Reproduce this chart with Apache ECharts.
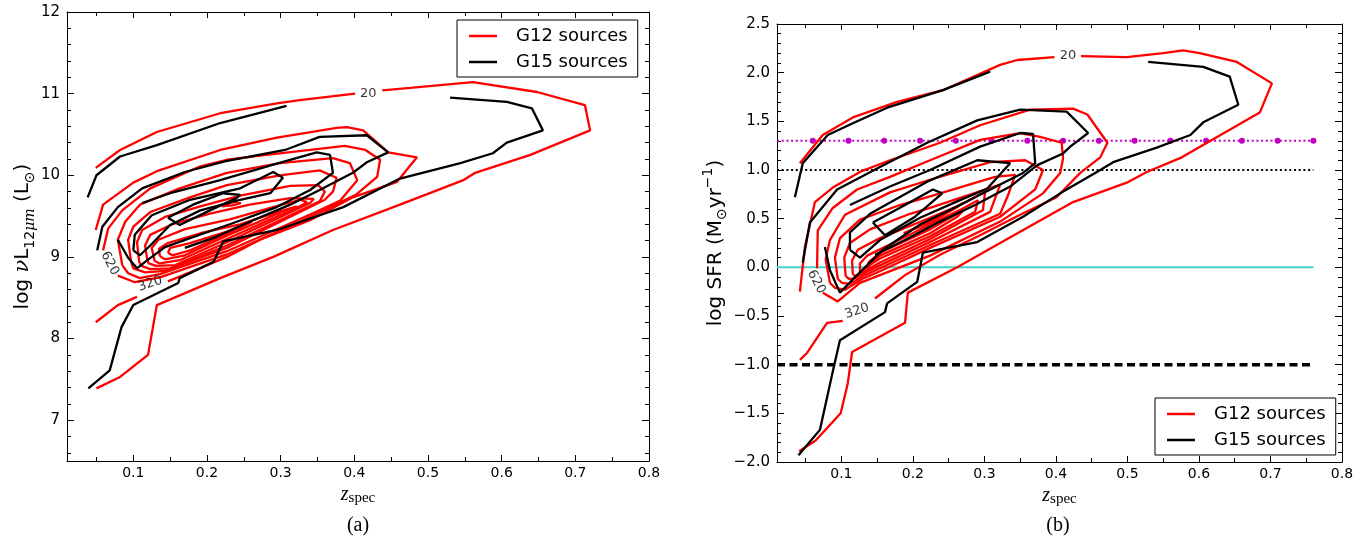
<!DOCTYPE html>
<html><head><meta charset="utf-8">
<script src="https://cdn.jsdelivr.net/npm/echarts@6/dist/echarts.min.js"></script>
<style>html,body{margin:0;padding:0;background:#fff}#c{width:1368px;height:541px}</style>
</head><body><div id="c"></div>
<script>
// ---------- axis ranges / ticks ----------
const X_MIN = 0.01, X_MAX = 0.8;
const L_YMIN = 6.5, L_YMAX = 12;
const R_YMIN = -2, R_YMAX = 2.5;
const xLabelVals = [0.1,0.2,0.3,0.4,0.5,0.6,0.7,0.8];
const xMinorTicks = [0.05,0.15,0.25,0.35,0.45,0.55,0.65,0.75];
const yLeftLabels = [7,8,9,10,11,12];
const yLeftMinor = [6.6,6.8,7.2,7.4,7.6,7.8,8.2,8.4,8.6,8.8,9.2,9.4,9.6,9.8,10.2,10.4,10.6,10.8,11.2,11.4,11.6,11.8];
const yRightLabels = [-2,-1.5,-1,-0.5,0,0.5,1,1.5,2,2.5];
const yRightMinor = [-1.9,-1.8,-1.7,-1.6,-1.4,-1.3,-1.2,-1.1,-0.9,-0.8,-0.7,-0.6,-0.4,-0.3,-0.2,-0.1,0.1,0.2,0.3,0.4,0.6,0.7,0.8,0.9,1.1,1.2,1.3,1.4,1.6,1.7,1.8,1.9,2.1,2.2,2.3,2.4];

// ---------- panel (a): G12 contours (red) ----------
const a_g12_20a = [[0.050,7.39],[0.082,7.53],[0.120,7.80],[0.132,8.41],[0.218,8.74],[0.290,9.00],[0.371,9.33],[0.462,9.64],[0.548,9.94],[0.564,10.03],[0.639,10.25],[0.720,10.55],[0.713,10.86],[0.648,11.02],[0.561,11.14],[0.476,11.07],[0.438,11.04]];
const a_g12_20b = [[0.401,11.00],[0.326,10.92],[0.295,10.88],[0.218,10.76],[0.132,10.53],[0.082,10.31],[0.049,10.09]];
const a_g12_320a = [[0.049,9.33],[0.059,9.64],[0.100,9.91],[0.132,10.05],[0.218,10.31],[0.295,10.46],[0.376,10.58],[0.390,10.59],[0.412,10.55],[0.446,10.28],[0.485,10.22],[0.458,9.92],[0.398,9.73],[0.340,9.45],[0.272,9.21],[0.227,9.00],[0.177,8.81],[0.147,8.70]];
const a_g12_320b = [[0.105,8.51],[0.079,8.41],[0.049,8.20]];
const a_g12_620 = [[0.079,8.77],[0.102,8.69],[0.136,8.75],[0.227,9.03],[0.340,9.49],[0.402,9.76],[0.431,9.98],[0.435,10.19],[0.415,10.31],[0.387,10.36],[0.340,10.31],[0.272,10.24],[0.227,10.19],[0.191,10.11],[0.123,9.84],[0.085,9.57],[0.066,9.35],[0.059,9.08]];
const a_g12_920 = [[0.085,8.90],[0.079,9.21],[0.089,9.43],[0.109,9.64],[0.163,9.84],[0.227,10.03],[0.299,10.15],[0.371,10.21],[0.394,10.15],[0.404,9.94],[0.381,9.69],[0.340,9.52],[0.227,9.07],[0.136,8.79],[0.109,8.74],[0.093,8.80],[0.085,8.90]];
const a_g12_1220 = [[0.097,8.94],[0.093,9.21],[0.100,9.37],[0.123,9.55],[0.177,9.73],[0.227,9.88],[0.299,10.00],[0.353,10.06],[0.376,9.97],[0.371,9.80],[0.360,9.70],[0.227,9.11],[0.143,8.83],[0.116,8.81],[0.100,8.86],[0.097,8.94]];
const a_g12_1520 = [[0.108,8.94],[0.105,9.18],[0.112,9.33],[0.143,9.49],[0.191,9.62],[0.245,9.75],[0.313,9.87],[0.351,9.88],[0.360,9.80],[0.353,9.68],[0.227,9.14],[0.150,8.86],[0.123,8.85],[0.111,8.89],[0.108,8.94]];
const a_g12_1820 = [[0.119,8.96],[0.116,9.14],[0.123,9.27],[0.153,9.40],[0.204,9.53],[0.258,9.64],[0.313,9.72],[0.345,9.71],[0.340,9.66],[0.227,9.18],[0.157,8.90],[0.131,8.89],[0.121,8.92],[0.119,8.96]];
const a_g12_2120 = [[0.128,8.99],[0.125,9.11],[0.134,9.21],[0.170,9.34],[0.231,9.46],[0.286,9.60],[0.326,9.70],[0.336,9.67],[0.326,9.62],[0.227,9.22],[0.163,8.96],[0.136,8.92],[0.129,8.95],[0.128,8.99]];
const a_g12_2420 = [[0.136,9.01],[0.135,9.10],[0.147,9.17],[0.191,9.29],[0.245,9.40],[0.292,9.54],[0.322,9.62],[0.306,9.57],[0.227,9.26],[0.170,9.02],[0.143,8.97],[0.136,9.01]];
const a_g12_2720 = [[0.147,9.05],[0.150,9.11],[0.177,9.17],[0.224,9.30],[0.261,9.43],[0.245,9.35],[0.224,9.27],[0.177,9.08],[0.153,9.02],[0.147,9.05]];
const a_g12_3020 = [[0.220,9.62],[0.234,9.67],[0.246,9.66],[0.234,9.63],[0.220,9.62]];

// ---------- panel (a): G15 contours (black) ----------
const a_g15_1a = [[0.039,7.39],[0.068,7.61],[0.084,8.14],[0.100,8.41],[0.161,8.68],[0.163,8.74],[0.209,8.94],[0.222,9.19],[0.295,9.33],[0.385,9.61],[0.462,9.96],[0.544,10.15],[0.588,10.27],[0.607,10.40],[0.656,10.55],[0.641,10.82],[0.607,10.90],[0.530,10.95]];
const a_g15_1b = [[0.038,9.73],[0.050,10.00],[0.082,10.23],[0.132,10.37],[0.218,10.64],[0.308,10.85]];
const a_g15_2 = [[0.051,9.08],[0.058,9.37],[0.079,9.61],[0.112,9.84],[0.170,10.04],[0.224,10.17],[0.306,10.31],[0.353,10.47],[0.417,10.49],[0.446,10.28],[0.417,10.16],[0.398,10.03],[0.353,9.82],[0.313,9.64],[0.258,9.43],[0.211,9.24],[0.170,9.11]];
const a_g15_3 = [[0.112,9.66],[0.150,9.78],[0.218,9.94],[0.290,10.13],[0.349,10.28],[0.367,10.25],[0.371,10.03],[0.340,9.82],[0.292,9.60],[0.231,9.40],[0.177,9.23],[0.143,9.12],[0.116,8.94],[0.105,8.86],[0.093,8.99],[0.079,9.21]];
const a_g15_4 = [[0.100,9.08],[0.102,9.27],[0.125,9.51],[0.177,9.70],[0.245,9.84],[0.290,10.04],[0.303,9.97],[0.286,9.78],[0.245,9.70],[0.191,9.57],[0.150,9.39],[0.123,9.14],[0.109,9.02],[0.100,9.08]];
const a_g15_5 = [[0.147,9.48],[0.181,9.64],[0.222,9.78],[0.245,9.76],[0.240,9.72],[0.204,9.57],[0.163,9.39],[0.147,9.48]];

// ---------- panel (b): G12 contours (red) ----------
const b_g12_20a = [[0.041,-1.89],[0.064,-1.78],[0.099,-1.50],[0.109,-1.19],[0.115,-0.87],[0.189,-0.57],[0.193,-0.26],[0.262,0.00],[0.322,0.25],[0.424,0.67],[0.499,0.87],[0.527,0.98],[0.576,1.13],[0.685,1.59],[0.702,1.89],[0.653,2.11],[0.601,2.20],[0.578,2.23],[0.550,2.20],[0.499,2.16],[0.435,2.17]];
const b_g12_20b = [[0.398,2.16],[0.346,2.13],[0.322,2.08],[0.242,1.82],[0.178,1.70],[0.116,1.54],[0.074,1.36],[0.042,1.07]];
const b_g12_320a = [[0.042,-0.25],[0.049,0.21],[0.063,0.67],[0.088,0.82],[0.126,0.98],[0.168,1.10],[0.238,1.28],[0.294,1.46],[0.364,1.62],[0.424,1.63],[0.444,1.57],[0.472,1.28],[0.462,1.13],[0.434,0.97],[0.401,0.72],[0.350,0.54],[0.294,0.33],[0.238,0.13],[0.189,-0.08],[0.147,-0.32]];
const b_g12_320b = [[0.102,-0.55],[0.080,-0.57],[0.052,-0.88],[0.042,-0.95]];
const b_g12_620 = [[0.074,-0.26],[0.095,-0.35],[0.126,-0.16],[0.224,0.12],[0.322,0.47],[0.382,0.76],[0.406,0.97],[0.410,1.12],[0.408,1.28],[0.378,1.34],[0.350,1.38],[0.294,1.31],[0.224,1.10],[0.168,0.93],[0.122,0.80],[0.088,0.61],[0.067,0.38],[0.066,-0.01]];
const b_g12_920 = [[0.084,-0.16],[0.078,0.08],[0.084,0.28],[0.105,0.54],[0.168,0.77],[0.224,0.90],[0.308,1.08],[0.357,1.10],[0.382,1.00],[0.371,0.80],[0.322,0.52],[0.224,0.20],[0.154,-0.04],[0.129,-0.12],[0.105,-0.23],[0.091,-0.21],[0.084,-0.16]];
const b_g12_1220 = [[0.095,-0.12],[0.091,0.10],[0.098,0.30],[0.126,0.49],[0.182,0.64],[0.224,0.73],[0.315,0.93],[0.343,0.95],[0.333,0.74],[0.322,0.55],[0.224,0.23],[0.154,-0.01],[0.133,-0.08],[0.112,-0.17],[0.101,-0.16],[0.095,-0.12]];
const b_g12_1520 = [[0.106,-0.09],[0.104,0.10],[0.112,0.25],[0.140,0.39],[0.196,0.55],[0.224,0.61],[0.322,0.85],[0.308,0.57],[0.224,0.26],[0.154,0.02],[0.137,-0.04],[0.120,-0.11],[0.111,-0.12],[0.106,-0.09]];
const b_g12_1820 = [[0.116,-0.07],[0.115,0.07],[0.123,0.18],[0.154,0.30],[0.224,0.51],[0.266,0.64],[0.301,0.78],[0.298,0.59],[0.224,0.29],[0.154,0.05],[0.140,-0.01],[0.126,-0.07],[0.119,-0.09],[0.116,-0.07]];
const b_g12_2120 = [[0.126,-0.05],[0.126,0.04],[0.136,0.12],[0.175,0.26],[0.224,0.44],[0.266,0.59],[0.291,0.69],[0.287,0.57],[0.224,0.32],[0.154,0.09],[0.137,0.01],[0.129,-0.04],[0.126,-0.05]];
const b_g12_2420 = [[0.136,-0.01],[0.138,0.05],[0.154,0.15],[0.224,0.39],[0.262,0.55],[0.270,0.58],[0.262,0.52],[0.224,0.35],[0.154,0.12],[0.140,0.03],[0.136,-0.01]];
const b_g12_2720 = [[0.187,0.35],[0.228,0.49],[0.270,0.66],[0.262,0.62],[0.228,0.47],[0.187,0.35]];

// ---------- panel (b): G15 contours (black) ----------
const b_g15_1a = [[0.040,-1.93],[0.070,-1.67],[0.088,-1.07],[0.098,-0.75],[0.161,-0.46],[0.164,-0.37],[0.206,-0.15],[0.214,0.15],[0.290,0.26],[0.354,0.52],[0.406,0.76],[0.462,1.00],[0.480,1.08],[0.541,1.23],[0.588,1.36],[0.606,1.49],[0.655,1.67],[0.643,1.96],[0.606,2.06],[0.529,2.11]];
const b_g15_1b = [[0.035,0.72],[0.046,1.07],[0.081,1.36],[0.116,1.48],[0.164,1.64],[0.242,1.82],[0.308,2.01]];
const b_g15_2 = [[0.046,0.05],[0.056,0.46],[0.094,0.80],[0.154,1.03],[0.220,1.28],[0.290,1.51],[0.350,1.62],[0.415,1.60],[0.445,1.38],[0.420,1.24],[0.410,1.17],[0.374,1.05],[0.336,0.83],[0.287,0.64],[0.238,0.47],[0.189,0.28],[0.147,0.13]];
const b_g15_3 = [[0.112,0.64],[0.168,0.83],[0.224,1.00],[0.294,1.24],[0.350,1.38],[0.368,1.37],[0.371,1.07],[0.354,0.97],[0.322,0.85],[0.266,0.64],[0.210,0.44],[0.158,0.18],[0.126,-0.05],[0.098,-0.26],[0.084,-0.03],[0.077,0.21]];
const b_g15_4 = [[0.112,0.18],[0.112,0.36],[0.140,0.55],[0.220,0.88],[0.290,1.10],[0.336,1.07],[0.304,0.81],[0.266,0.69],[0.210,0.51],[0.154,0.28],[0.126,0.10],[0.112,0.18]];
const b_g15_5 = [[0.144,0.46],[0.161,0.33],[0.203,0.52],[0.241,0.76],[0.228,0.80],[0.189,0.64],[0.144,0.46]];

// ---------- contour level labels ----------
const a_levelLabels = [[0.419,11.00,'20'],[0.068,8.92,'620'],[0.123,8.67,'320']];
const b_levelLabels = [[0.417,2.18,'20'],[0.065,-0.15,'620'],[0.122,-0.45,'320']];

// ---------- reference lines in panel (b) ----------
const refLineX = [0.01,0.76];
const magentaY = 1.3;
const magentaDotsX = [0.01,0.06,0.11,0.16,0.21,0.26,0.31,0.36,0.41,0.46,0.51,0.56,0.61,0.66,0.71,0.76];
const dottedY = 1.0;
const cyanY = 0.0;
const dashedY = -1.0;

const seriesNames = ['G12 sources','G15 sources'];
const panelTags = ['(a)','(b)'];

// ================= build chart =================
const RED = '#ff0000', BLK = '#000000';
const FONT = 'DejaVu Sans', SERIF = 'Liberation Serif';
const LW = 2.3;

function xAxesFor(g) {
  const line = {show:true,onZero:false,lineStyle:{color:BLK,width:1}};
  const noLine = {show:false,onZero:false};
  const base = {gridIndex:g, type:'value', min:X_MIN, max:X_MAX, splitLine:{show:false}};
  const tickStyle = {color:BLK,width:1};
  return [
    Object.assign({}, base, {position:'bottom', axisLine:line,
      axisTick:{show:true,inside:true,length:6,customValues:xLabelVals,lineStyle:tickStyle},
      axisLabel:{show:true,customValues:xLabelVals,formatter:v=>Number(v).toFixed(1),margin:5,color:BLK,fontSize:14,fontFamily:FONT},
      name:'{z|z}{s|spec}', nameLocation:'middle', nameGap:12,
      nameTextStyle:{rich:{
        z:{fontSize:20,fontStyle:'italic',fontFamily:SERIF,color:BLK,lineHeight:22,verticalAlign:'middle'},
        s:{fontSize:15,fontFamily:SERIF,color:BLK,lineHeight:15,verticalAlign:'bottom'}}}}),
    Object.assign({}, base, {position:'bottom', axisLine:noLine,
      axisTick:{show:true,inside:true,length:4,customValues:xMinorTicks,lineStyle:tickStyle}, axisLabel:{show:false}}),
    Object.assign({}, base, {position:'top', axisLine:line,
      axisTick:{show:true,inside:true,length:6,customValues:xLabelVals,lineStyle:tickStyle}, axisLabel:{show:false}}),
    Object.assign({}, base, {position:'top', axisLine:noLine,
      axisTick:{show:true,inside:true,length:4,customValues:xMinorTicks,lineStyle:tickStyle}, axisLabel:{show:false}})
  ];
}
function yAxesFor(g, ymin, ymax, majors, minors, fmt, name, rich, nameGap) {
  const line = {show:true,onZero:false,lineStyle:{color:BLK,width:1}};
  const noLine = {show:false,onZero:false};
  const base = {gridIndex:g, type:'value', min:ymin, max:ymax, splitLine:{show:false}};
  const tickStyle = {color:BLK,width:1};
  return [
    Object.assign({}, base, {position:'left', axisLine:line,
      axisTick:{show:true,inside:true,length:7,customValues:majors,lineStyle:tickStyle},
      axisLabel:{show:true,customValues:majors,formatter:fmt,margin:7,color:BLK,fontSize:15,fontFamily:FONT},
      name:name, nameLocation:'middle', nameRotate:90, nameGap:nameGap, nameTextStyle:{rich:rich}}),
    Object.assign({}, base, {position:'left', axisLine:noLine,
      axisTick:{show:true,inside:true,length:4,customValues:minors,lineStyle:tickStyle}, axisLabel:{show:false}}),
    Object.assign({}, base, {position:'right', axisLine:line,
      axisTick:{show:true,inside:true,length:7,customValues:majors,lineStyle:tickStyle}, axisLabel:{show:false}}),
    Object.assign({}, base, {position:'right', axisLine:noLine,
      axisTick:{show:true,inside:true,length:4,customValues:minors,lineStyle:tickStyle}, axisLabel:{show:false}})
  ];
}
const richMain = {fontSize:20,fontFamily:FONT,color:BLK,lineHeight:28,verticalAlign:'middle'};
const leftRich = {
  a: richMain,
  i: {fontSize:21,fontFamily:'DejaVu Serif',fontStyle:'italic',color:BLK,lineHeight:28,verticalAlign:'middle'},
  s: {fontSize:14,fontFamily:FONT,color:BLK,lineHeight:15,verticalAlign:'bottom'},
  si:{fontSize:14,fontFamily:'DejaVu Serif',fontStyle:'italic',color:BLK,lineHeight:15,verticalAlign:'bottom'}
};
const rightRich = {
  a: richMain,
  s: {fontSize:14,fontFamily:FONT,color:BLK,lineHeight:15,verticalAlign:'bottom'},
  p: {fontSize:14,fontFamily:FONT,color:BLK,lineHeight:15,verticalAlign:'top'}
};

const xAxis = xAxesFor(0).concat(xAxesFor(1));
const yAxis = yAxesFor(0, L_YMIN, L_YMAX, yLeftLabels, yLeftMinor, v=>String(Math.round(v)),
    '{a|log }{i|ν}{a|L}{s|12}{si|μm}{a| (L}{s|⊙}{a|)}', leftRich, 30)
  .concat(yAxesFor(1, R_YMIN, R_YMAX, yRightLabels, yRightMinor,
    v=>(v<0?'\u2212':'')+Math.abs(v).toFixed(1),
    '{a|log SFR (M}{s|⊙}{a|yr}{p|\u22121}{a|)}', rightRich, 47));

const series = [];
function contour(data, name, color, xi, yi) {
  series.push({type:'line', name:name, data:data, xAxisIndex:xi, yAxisIndex:yi,
    showSymbol:false, symbol:'none', color:color, lineStyle:{color:color,width:LW},
    silent:true, z:color===RED?2:3, animation:false});
}
[a_g12_20a,a_g12_20b,a_g12_320a,a_g12_320b,a_g12_620,a_g12_920,a_g12_1220,a_g12_1520,a_g12_1820,a_g12_2120,a_g12_2420,a_g12_2720,a_g12_3020]
  .forEach(d=>contour(d, seriesNames[0], RED, 0, 0));
[a_g15_1a,a_g15_1b,a_g15_2,a_g15_3,a_g15_4,a_g15_5].forEach(d=>contour(d, seriesNames[1], BLK, 0, 0));
[b_g12_20a,b_g12_20b,b_g12_320a,b_g12_320b,b_g12_620,b_g12_920,b_g12_1220,b_g12_1520,b_g12_1820,b_g12_2120,b_g12_2420,b_g12_2720]
  .forEach(d=>contour(d, seriesNames[0], RED, 4, 4));
[b_g15_1a,b_g15_1b,b_g15_2,b_g15_3,b_g15_4,b_g15_5].forEach(d=>contour(d, seriesNames[1], BLK, 4, 4));

// reference lines (panel b)
series.push({type:'line', name:'ref-dashed', xAxisIndex:4, yAxisIndex:4, data:refLineX.map(x=>[x,dashedY]),
  showSymbol:false, lineStyle:{color:BLK,width:3.5,type:[8,4.5]}, silent:true, z:1, animation:false});
series.push({type:'line', name:'ref-cyan', xAxisIndex:4, yAxisIndex:4, data:refLineX.map(x=>[x,cyanY]),
  showSymbol:false, lineStyle:{color:'#48d1cc',width:2}, silent:true, z:1, animation:false});
series.push({type:'line', name:'ref-dotted', xAxisIndex:4, yAxisIndex:4, data:refLineX.map(x=>[x,dottedY]),
  showSymbol:false, lineStyle:{color:BLK,width:2,type:[2,2.7]}, silent:true, z:1, animation:false});
series.push({type:'line', name:'ref-magenta', xAxisIndex:4, yAxisIndex:4,
  data:magentaDotsX.map((x,i)=>i===0?{value:[x,magentaY],symbol:'none'}:[x,magentaY]),
  showSymbol:true, symbol:'circle', symbolSize:6, itemStyle:{color:'#c000c0'},
  lineStyle:{color:'#c000c0',width:2,type:[2,2.7]}, silent:true, z:1, animation:false});

// contour level labels
function levelLabels(arr, xi, yi) {
  const rot = {'20':0,'620':-62,'320':18};
  series.push({type:'scatter', name:'levels', xAxisIndex:xi, yAxisIndex:yi, symbolSize:1,
    itemStyle:{color:'rgba(0,0,0,0)'}, silent:true, z:5, animation:false,
    data:arr.map(d=>({value:[d[0],d[1]], label:{show:true, formatter:d[2], rotate:rot[d[2]]}})),
    label:{show:true, position:'inside', color:BLK, fontSize:13, fontFamily:FONT}});
}
levelLabels(a_levelLabels, 0, 0);
levelLabels(b_levelLabels, 4, 4);

const legendBase = {data:seriesNames, orient:'vertical', icon:'rect', itemWidth:28, itemHeight:2.5, itemGap:8,
  selectedMode:false, backgroundColor:'#fff', borderColor:BLK, borderWidth:1, borderRadius:0,
  padding:[7,10,6,12], textStyle:{fontSize:18,fontFamily:FONT,color:BLK,lineHeight:18,padding:[0,0,0,14]}};

const option = {
  animation:false,
  backgroundColor:'#fff',
  grid:[
    {left:67, top:12, width:582, height:449, containLabel:false},
    {left:777, top:24, width:565, height:438, containLabel:false}
  ],
  xAxis: xAxis,
  yAxis: yAxis,
  legend:[
    Object.assign({}, legendBase, {left:457, top:20}),
    Object.assign({}, legendBase, {left:1155, top:398})
  ],
  graphic:[
    {type:'text', x:358, y:526, style:{text:panelTags[0], fontSize:20, fontFamily:SERIF, fill:BLK, align:'center', verticalAlign:'middle'}},
    {type:'text', x:1058, y:526, style:{text:panelTags[1], fontSize:20, fontFamily:SERIF, fill:BLK, align:'center', verticalAlign:'middle'}}
  ],
  series: series
};
const chart = echarts.init(document.getElementById('c'), null, {renderer:'canvas'});
chart.setOption(option);
</script></body></html>
